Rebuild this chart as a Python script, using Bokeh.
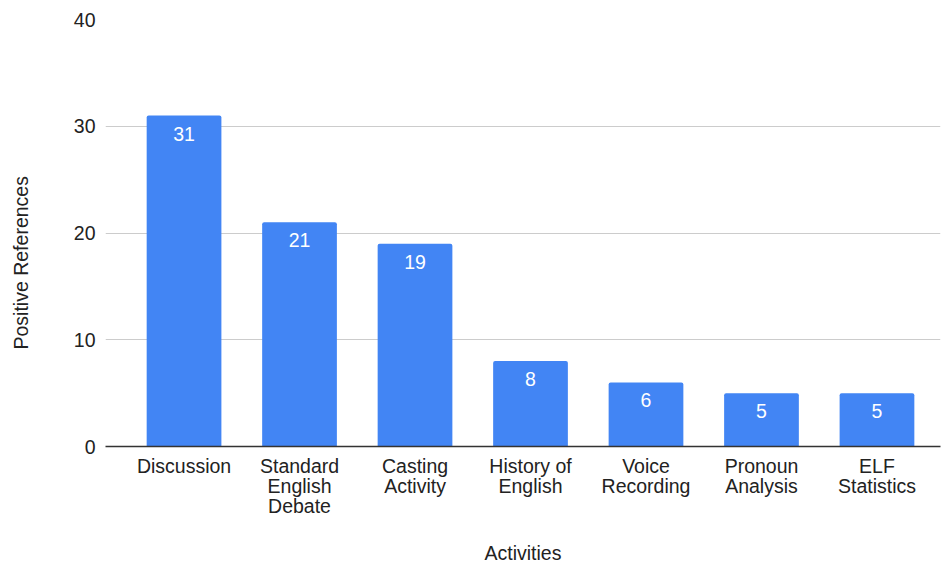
from bokeh.plotting import figure
from bokeh.models import ColumnDataSource, FixedTicker, Range1d, Title, LinearAxis
from bokeh.core.properties import value
from bokeh.embed import file_html
from bokeh.resources import INLINE

categories = ["Discussion", "Standard\nEnglish\nDebate", "Casting\nActivity",
              "History of\nEnglish", "Voice\nRecording", "Pronoun\nAnalysis",
              "ELF\nStatistics"]
counts = [31, 21, 19, 8, 6, 5, 5]
y_ticks = [0, 10, 20, 30, 40]

FONT = "Liberation Sans"
FS = "19.5px"
BLUE = "#4285F4"
TXT = "#222222"

xs = list(range(len(categories)))
src = ColumnDataSource(dict(x=xs, top=counts, label=[str(c) for c in counts]))

p = figure(width=942, height=566, output_backend="svg", toolbar_location=None,
           x_range=Range1d(-0.68, 6.55), y_range=Range1d(0, 40),
           min_border_left=105, min_border_right=2, min_border_top=19,
           min_border_bottom=119)
p.outline_line_color = None
p.background_fill_color = "white"
p.border_fill_color = "white"

p.vbar(x="x", top="top", width=0.647, source=src, fill_color=BLUE,
       line_color=None, border_radius=[2, 2, 0, 0])
p.text(x="x", y="top", text="label", source=src, text_color="white",
       text_font=value(FONT), text_font_size=FS, text_align="center",
       text_baseline="top", y_offset=11)

# y axis
p.yaxis.ticker = FixedTicker(ticks=y_ticks)
p.yaxis.axis_line_color = None
p.yaxis.major_tick_line_color = None
p.yaxis.minor_tick_line_color = None
p.yaxis.major_tick_out = 0
p.yaxis.major_tick_in = 0
p.yaxis.major_label_text_font = FONT
p.yaxis.major_label_text_font_size = FS
p.yaxis.major_label_text_color = TXT
p.yaxis.major_label_standoff = 10

# invisible spacer between tick labels and the y title
spacer = LinearAxis(ticker=FixedTicker(ticks=[y_ticks[0]]), axis_line_color=None,
                    major_tick_line_color=None, minor_tick_line_color=None,
                    major_tick_out=29, major_tick_in=0, minor_tick_out=0,
                    major_label_overrides={y_ticks[0]: ""}, major_label_standoff=0)
p.add_layout(spacer, "left")

# y axis title as a side title (reference places it below the frame middle)
p.add_layout(Title(text="Positive References", align="left", offset=97,
                   vertical_align="top", standoff=16,
                   text_font=FONT, text_font_size=FS, text_color=TXT,
                   text_font_style="normal"), "left")

# x axis
p.xaxis.ticker = FixedTicker(ticks=xs)
p.xaxis.major_label_overrides = {i: c for i, c in zip(xs, categories)}
p.xaxis.axis_line_color = "#333333"
p.xaxis.axis_line_width = 1.5
p.xaxis.major_tick_line_color = None
p.xaxis.minor_tick_line_color = None
p.xaxis.major_tick_out = 0
p.xaxis.major_tick_in = 0
p.xaxis.major_label_text_font = FONT
p.xaxis.major_label_text_font_size = FS
p.xaxis.major_label_text_color = TXT
p.xaxis.major_label_text_line_height = 0.92
p.xaxis.major_label_standoff = 8
p.xaxis.axis_label = "Activities"
p.xaxis.axis_label_text_font = FONT
p.xaxis.axis_label_text_font_size = FS
p.xaxis.axis_label_text_font_style = "normal"
p.xaxis.axis_label_text_color = TXT
p.xaxis.axis_label_standoff = 22

p.xgrid.grid_line_color = None
p.ygrid.grid_line_color = "#cccccc"
p.ygrid.grid_line_width = 1.2

open("out.html", "w").write(file_html(p, INLINE))
